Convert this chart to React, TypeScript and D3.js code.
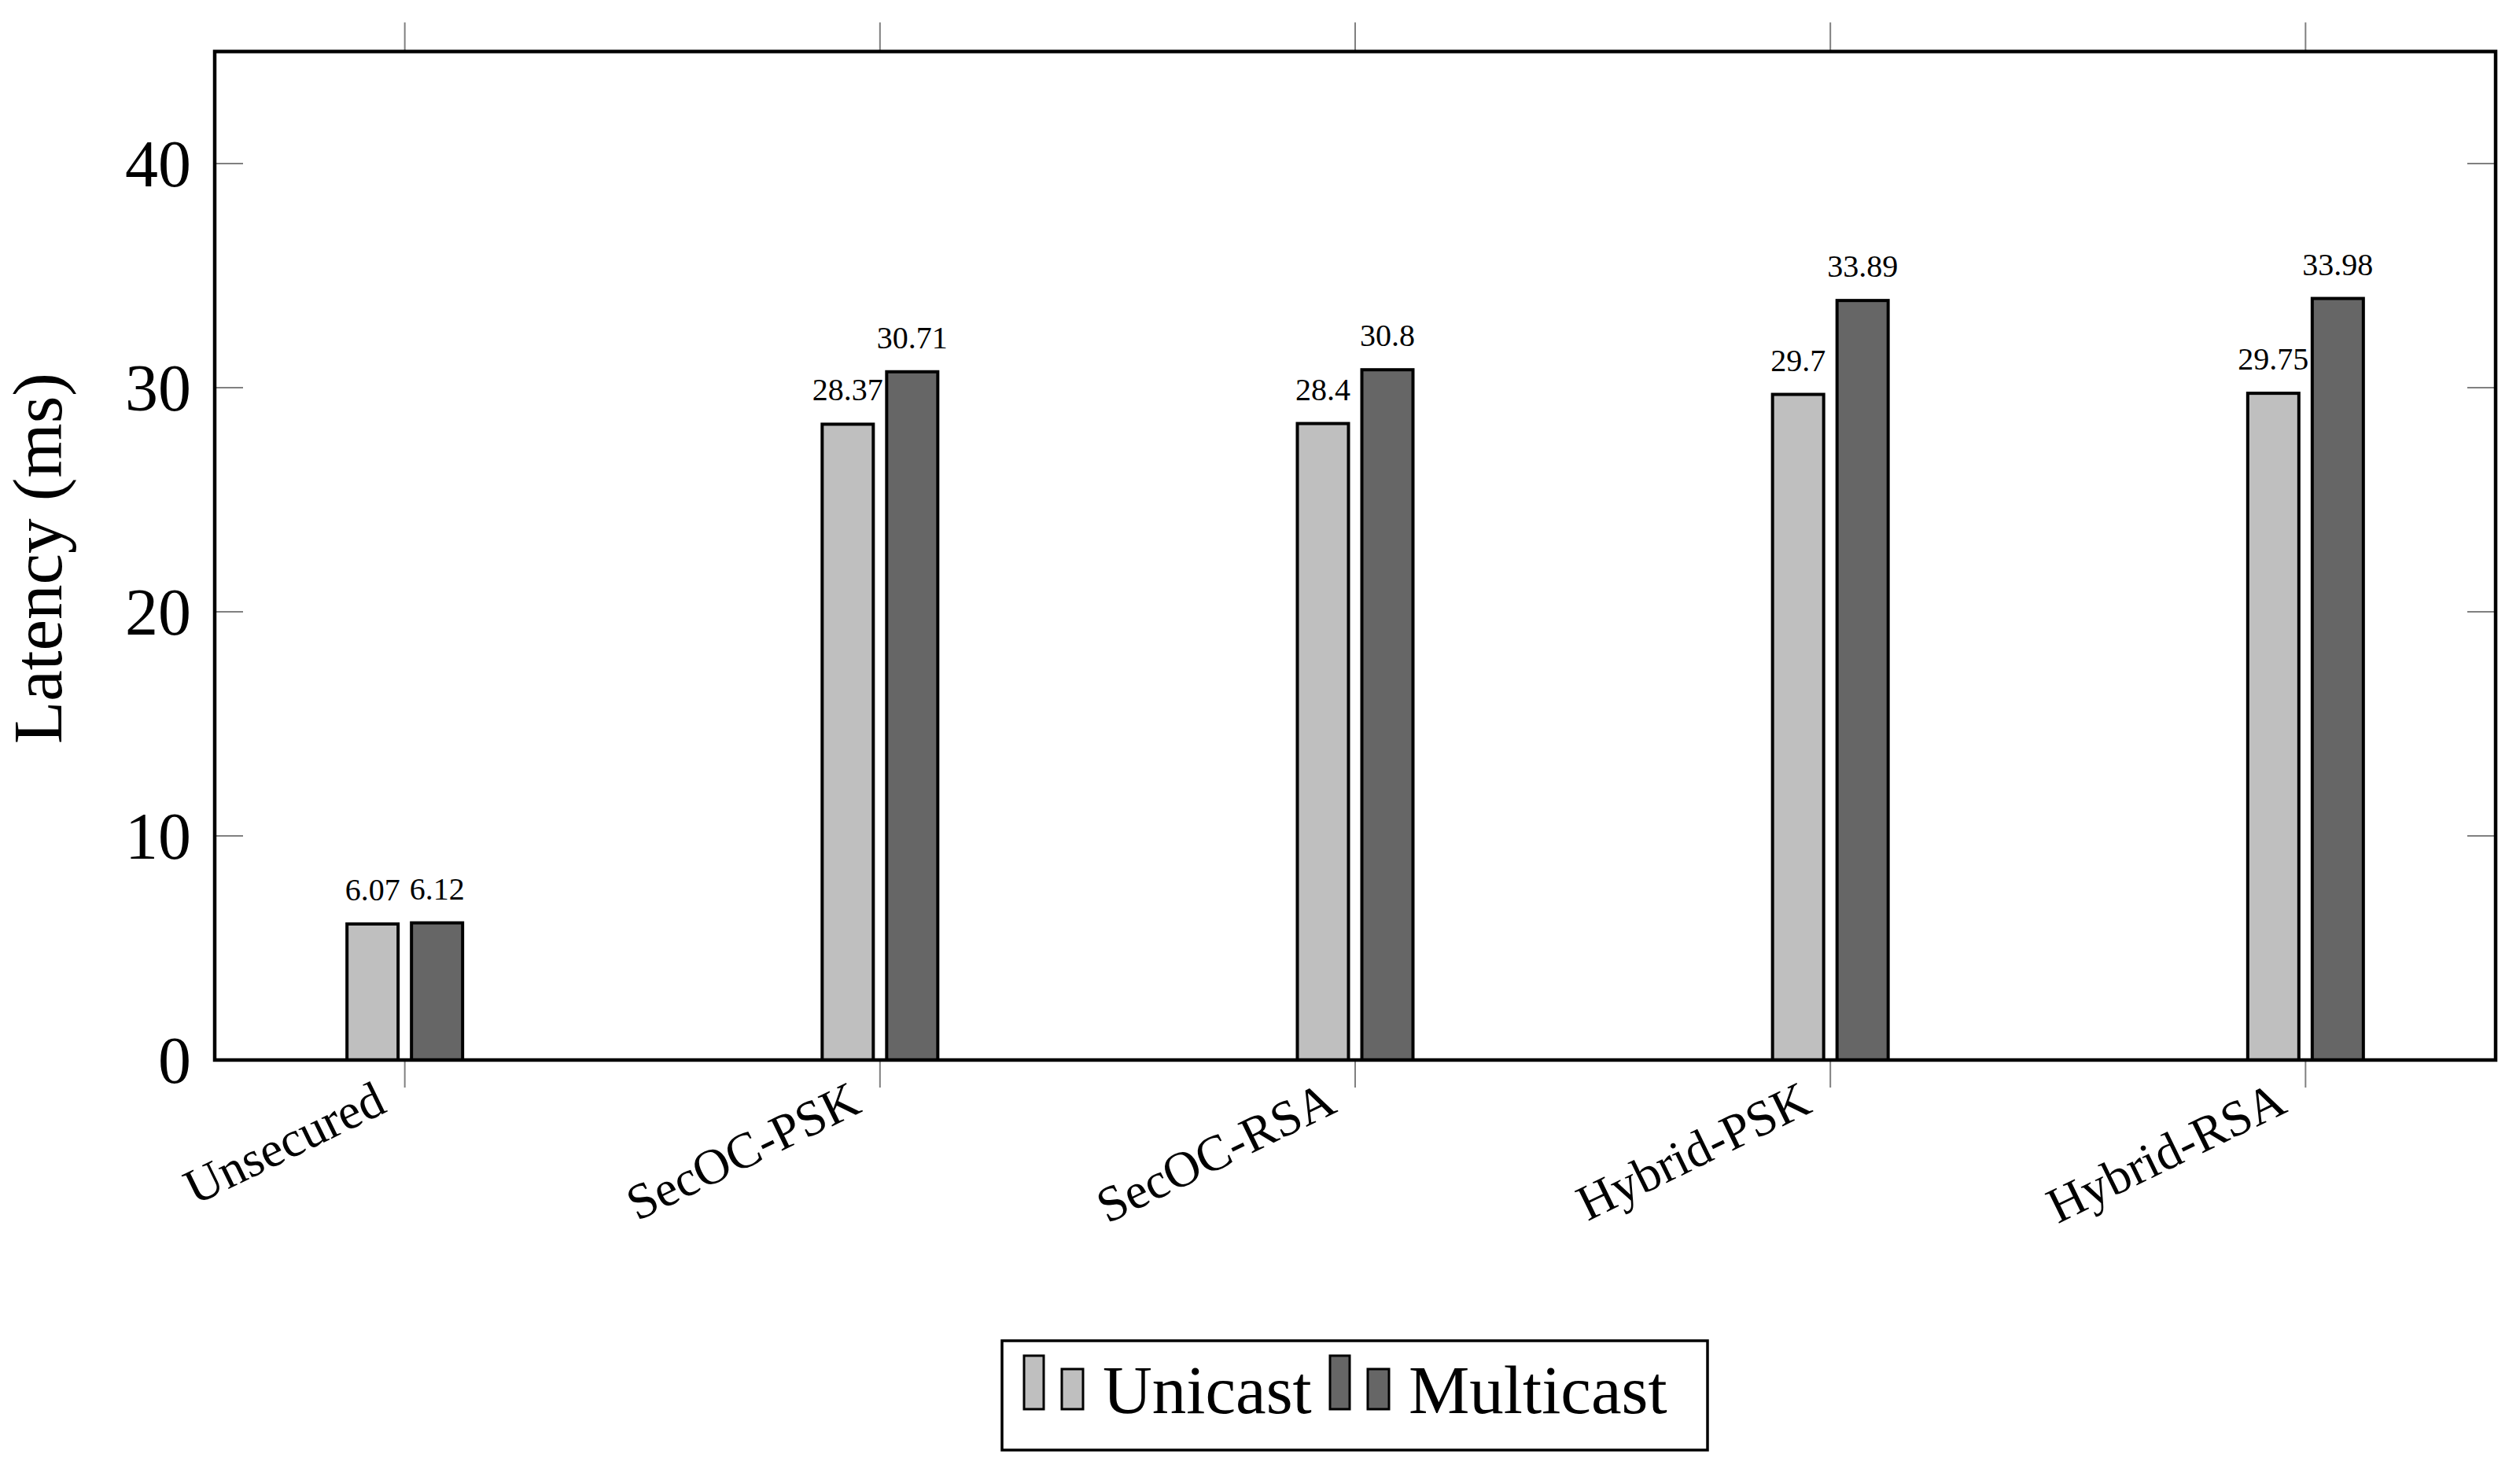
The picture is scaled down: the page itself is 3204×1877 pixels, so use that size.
import React from 'react';
import * as d3 from 'd3';

// chart data
const categories = ['Unsecured', 'SecOC-PSK', 'SecOC-RSA', 'Hybrid-PSK', 'Hybrid-RSA'];
const unicast = [6.07, 28.37, 28.4, 29.7, 29.75];
const multicast = [6.12, 30.71, 30.8, 33.89, 33.98];
const yTicks = [0, 10, 20, 30, 40];
const seriesNames = ['Unicast', 'Multicast'];
const seriesColors = ['#bfbfbf', '#666666'];

const W = 3204;
const H = 1877;
const FONT = '"Liberation Serif", "Times New Roman", serif';

const App = () => {
    const left = 273, right = 3173, top = 65.5, bottom = 1348;

    const x = d3.scaleLinear().domain([-0.4, 4.4]).range([left, right]);
    const y = d3.scaleLinear().domain([0, 45]).range([bottom, top]);

    const barWidth = 65;
    const shift = 41;
    const series = [unicast, multicast];

    return (
        <svg width={W} height={H} viewBox={`0 0 ${W} ${H}`}
             style={{ position: 'absolute', left: 0, top: 0, background: '#fff' }}
             fontFamily={FONT}>
            <rect x={0} y={0} width={W} height={H} fill="#fff" />

            {/* y ticks, inside on both sides */}
            {yTicks.map(t => (
                <g key={'yt' + t}>
                    <line x1={left} x2={left + 36} y1={y(t)} y2={y(t)} stroke="#808080" strokeWidth={2} />
                    <line x1={right - 36} x2={right} y1={y(t)} y2={y(t)} stroke="#808080" strokeWidth={2} />
                    <text x={243} y={y(t)} dy="0.34em" textAnchor="end" fontSize={84} fill="#000">{t}</text>
                </g>
            ))}

            {/* x ticks, outside on top and bottom */}
            {categories.map((c, i) => (
                <g key={'xt' + c}>
                    <line x1={x(i)} x2={x(i)} y1={top - 37} y2={top} stroke="#808080" strokeWidth={2} />
                    <line x1={x(i)} x2={x(i)} y1={bottom} y2={bottom + 35} stroke="#808080" strokeWidth={2} />
                    <text transform={`translate(${x(i) - 21},${1413}) rotate(-26)`}
                          textAnchor="end" fontSize={64} fill="#000">{c}</text>
                </g>
            ))}

            {/* bars */}
            {series.map((vals, s) => (
                <g key={'s' + s}>
                    {vals.map((v, i) => {
                        const cx = x(i) + (s === 0 ? -shift : shift);
                        return (
                            <g key={i}>
                                <rect x={cx - barWidth / 2} y={y(v)} width={barWidth} height={y(0) - y(v)}
                                      fill={seriesColors[s]} stroke="#000" strokeWidth={4} />
                                <text x={cx} y={y(v) - 30} textAnchor="middle" fontSize={40} fill="#000">{v}</text>
                            </g>
                        );
                    })}
                </g>
            ))}

            {/* frame */}
            <rect x={left} y={top} width={right - left} height={bottom - top}
                  fill="none" stroke="#000" strokeWidth={4.5} />

            {/* y axis label */}
            <text transform={`translate(78,710) rotate(-90)`} textAnchor="middle" fontSize={89} fill="#000">
                Latency (ms)
            </text>

            {/* legend */}
            <rect x={1274} y={1705} width={897} height={139} fill="#fff" stroke="#000" strokeWidth={3.5} />
            {seriesNames.map((name, s) => {
                const x0 = s === 0 ? 1302 : 1691;
                return (
                    <g key={'lg' + name}>
                        <rect x={x0} y={1724} width={25} height={68} fill={seriesColors[s]} stroke="#000" strokeWidth={3} />
                        <rect x={x0 + 48} y={1741} width={27} height={51} fill={seriesColors[s]} stroke="#000" strokeWidth={3} />
                        <text x={x0 + 100} y={1797} fontSize={87} fill="#000">{name}</text>
                    </g>
                );
            })}
        </svg>
    );
};

export default App;
